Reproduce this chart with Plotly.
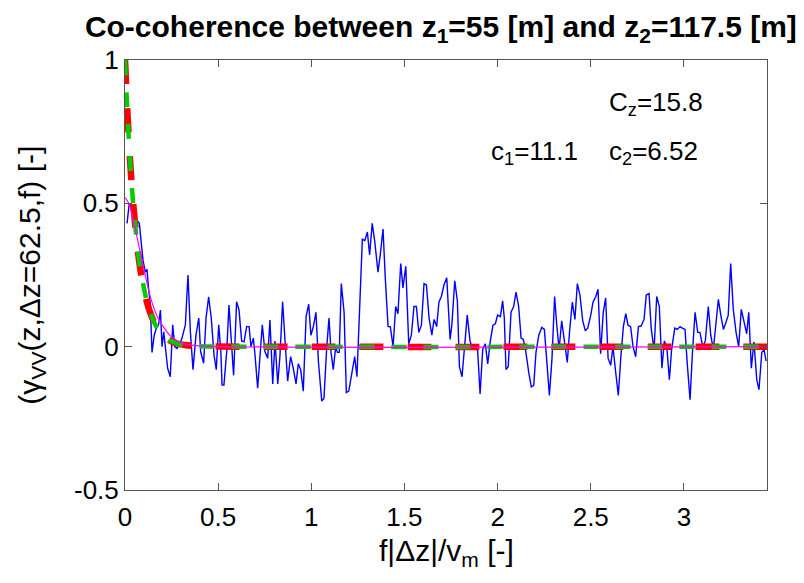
import plotly.graph_objects as go

# Measured co-coherence (normalised frequency, value)
f_meas = [
    0.011, 0.023, 0.038, 0.052, 0.064, 0.077, 0.086, 0.097, 0.109, 0.118,
    0.127, 0.136, 0.145, 0.157, 0.168, 0.181, 0.190, 0.199, 0.208, 0.217,
    0.229, 0.243, 0.256, 0.267, 0.279, 0.292, 0.306, 0.324, 0.338, 0.351,
    0.365, 0.381, 0.396, 0.406, 0.422, 0.435, 0.449, 0.463, 0.478, 0.490,
    0.503, 0.514, 0.521, 0.531, 0.546, 0.558, 0.571, 0.583,
    0.599, 0.612, 0.626, 0.639, 0.653, 0.666, 0.676, 0.689, 0.698, 0.712,
    0.725, 0.737, 0.751, 0.766, 0.778, 0.793, 0.805, 0.820, 0.832, 0.846,
    0.859, 0.873, 0.889, 0.903, 0.918, 0.930, 0.943, 0.957, 0.972, 0.986,
    0.998, 1.011, 1.025, 1.038, 1.056, 1.068, 1.083, 1.095, 1.106, 1.118,
    1.131, 1.140, 1.150, 1.161,
    1.176, 1.188, 1.201, 1.215, 1.233, 1.245, 1.260, 1.274, 1.287, 1.301,
    1.313, 1.327, 1.340, 1.358, 1.370, 1.385, 1.397, 1.412, 1.424, 1.439,
    1.453, 1.465, 1.480, 1.492, 1.507, 1.523, 1.537, 1.551, 1.564, 1.577,
    1.591, 1.605, 1.618, 1.632, 1.647, 1.659, 1.673, 1.685, 1.698, 1.712,
    1.727,
    1.745, 1.755, 1.770, 1.784, 1.795, 1.809, 1.823, 1.837, 1.852, 1.866,
    1.880, 1.893, 1.906, 1.920, 1.934, 1.947, 1.961, 1.975, 1.988, 2.000,
    2.015, 2.027, 2.036, 2.045, 2.057, 2.072, 2.086, 2.099, 2.113, 2.126,
    2.138, 2.152, 2.167, 2.181, 2.194, 2.206, 2.221, 2.237, 2.251, 2.264,
    2.278, 2.292, 2.306,
    2.317, 2.330, 2.344, 2.360, 2.374, 2.387, 2.401, 2.415, 2.428, 2.442,
    2.457, 2.471, 2.484, 2.500, 2.512, 2.527, 2.539, 2.553, 2.567, 2.580,
    2.593, 2.607, 2.619, 2.634, 2.648, 2.661, 2.675, 2.688, 2.700, 2.714,
    2.727, 2.741, 2.756, 2.770, 2.786, 2.798, 2.813, 2.825, 2.840, 2.854,
    2.868, 2.882, 2.895,
    2.908, 2.922, 2.934, 2.951, 2.965, 2.979, 2.992, 3.006, 3.018, 3.033,
    3.045, 3.060, 3.074, 3.086, 3.101, 3.115, 3.131, 3.144, 3.158, 3.172,
    3.185, 3.198, 3.212, 3.226, 3.238, 3.251, 3.265, 3.280, 3.294, 3.308,
    3.323, 3.337, 3.348, 3.362, 3.376, 3.391, 3.403, 3.418, 3.430, 3.441,
]
coh_meas = [
    0.43, 0.50, 0.48, 0.45, 0.44, 0.43, 0.37, 0.30, 0.26, 0.27,
    0.20, 0.145, -0.02, 0.04, 0.064, 0.08, 0.128, 0.0, 0.052, -0.006,
    -0.076, -0.105, 0.076, 0.0, -0.006, 0.006, 0.03, 0.076, 0.25, 0.052,
    -0.08, 0.04, 0.10, -0.017, -0.058, 0.10, 0.174, 0.10, -0.03, -0.08,
    0.076, -0.012, -0.134, -0.134, -0.017, 0.145, 0.03, -0.10,
    0.157, 0.128, 0.02, 0.017, 0.07, 0.07, 0.0, 0.03, -0.03, -0.145,
    -0.03, 0.076, -0.017, -0.04, 0.093, -0.13, 0.02, -0.13, -0.03, 0.157,
    0.02, -0.12, -0.035, -0.075, -0.13, -0.06, -0.08, -0.155, 0.105, 0.148,
    0.04, 0.07, 0.12, -0.05, -0.19, -0.18, 0.0, 0.10, -0.02, -0.08,
    0.0, -0.02, -0.02, 0.22,
    0.12, -0.16, -0.155, -0.10, -0.035, -0.105, 0.13, 0.375, 0.37, 0.40,
    0.32, 0.43, 0.37, 0.26, 0.32, 0.41, 0.24, 0.07, 0.07, 0.0,
    0.14, 0.115, 0.29, 0.205, 0.28, 0.01, 0.04, 0.14, 0.14, 0.05,
    0.075, 0.22, 0.215, 0.10, 0.04, 0.095, 0.07, 0.155, 0.175, 0.215,
    0.24,
    0.025, 0.08, 0.23, 0.16, -0.07, -0.105, 0.0, 0.11, 0.02, -0.01,
    0.0, -0.015, -0.165, -0.01, 0.01, -0.06, 0.02, 0.075, 0.08, 0.11,
    0.105, 0.16, 0.10, -0.08, -0.07, 0.12, 0.14, 0.19, 0.14, 0.03,
    0.025, -0.02, -0.09, -0.14, -0.135, -0.02, 0.04, 0.067, 0.06, -0.04,
    -0.17, -0.04, 0.175,
    0.08, -0.01, 0.09, 0.02, -0.055, 0.06, 0.155, 0.095, 0.22, 0.18,
    0.09, 0.055, 0.065, 0.11, 0.155, 0.175, 0.20, -0.025, 0.12, 0.17,
    -0.04, -0.065, 0.0, -0.09, -0.17, -0.04, 0.07, 0.115, 0.075, 0.07,
    0.0, -0.035, 0.07, 0.072, 0.095, 0.18, 0.185, 0.06, -0.01, 0.175,
    0.14, -0.075, 0.02,
    0.0, -0.115, -0.01, 0.065, 0.06, 0.07, 0.065, 0.06, -0.06, -0.185,
    -0.03, 0.12, 0.05, 0.05, 0.0, 0.02, 0.14, 0.04, -0.01, 0.07,
    0.165, 0.11, 0.06, 0.085, 0.11, 0.29, 0.13, 0.05, 0.0, 0.13,
    0.09, 0.045, 0.12, -0.075, 0.017, -0.115, -0.15, -0.02, -0.01, -0.05,
]

# Fitted model curves
f_fit = [0.0, 0.02, 0.04, 0.06, 0.08, 0.10, 0.12, 0.14, 0.16, 0.18,
         0.20, 0.24, 0.28, 0.32, 0.38, 0.45, 3.446]
coh_fit_cz = [1.0, 0.73, 0.53, 0.39, 0.28, 0.21, 0.15, 0.11, 0.08, 0.058,
              0.042, 0.022, 0.011, 0.006, 0.0025, 0.001, 0.0]
coh_fit_c12 = [1.0, 0.73, 0.53, 0.39, 0.28, 0.21, 0.15, 0.11, 0.08, 0.058,
               0.042, 0.022, 0.011, 0.006, 0.0025, 0.001, 0.0]

f_smooth = [0.0, 0.02, 0.05, 0.08, 0.11, 0.14, 0.17, 0.20, 0.24, 0.28,
            0.32, 0.38, 0.45, 3.446]
coh_smooth = [0.52, 0.50, 0.425, 0.335, 0.245, 0.165, 0.11, 0.075, 0.04, 0.02,
              0.01, 0.004, 0.001, 0.0]

x_ticks = [0, 0.5, 1, 1.5, 2, 2.5, 3]
x_ticklabels = ["0", "0.5", "1", "1.5", "2", "2.5", "3"]
y_ticks = [-0.5, 0, 0.5, 1]
y_ticklabels = ["-0.5", "0", "0.5", "1"]

FONT = "Liberation Sans, Arial, sans-serif"
TXT = "#000000"
AX = "#555555"

fig = go.Figure()
fig.add_trace(go.Scatter(x=f_meas, y=coh_meas, mode="lines",
                         line=dict(color="#0000FF", width=1.4)))
fig.add_trace(go.Scatter(x=f_fit, y=coh_fit_cz, mode="lines",
                         line=dict(color="#FF0000", width=6.5, dash="24px,24px",
                                   shape="spline")))
fig.add_trace(go.Scatter(x=f_fit, y=coh_fit_c12, mode="lines",
                         line=dict(color="#00CC00", width=4.5, dash="15px,17px",
                                   shape="spline")))
fig.add_trace(go.Scatter(x=f_smooth, y=coh_smooth, mode="lines",
                         line=dict(color="#FF00FF", width=1.2, shape="spline")))

axis_common = dict(showline=True, linecolor=AX, linewidth=1, mirror="ticks",
                   ticks="inside", ticklen=7, tickcolor=AX, tickwidth=1,
                   showgrid=False, zeroline=False,
                   tickfont=dict(family=FONT, size=26, color=TXT))

fig.update_layout(
    width=804, height=583,
    margin=dict(l=125, r=37, t=60, b=93),
    paper_bgcolor="white", plot_bgcolor="white",
    showlegend=False,
    title=dict(text="<b>Co-coherence between z<sub>1</sub>=55 [m] and z<sub>2</sub>=117.5 [m]</b>",
               x=0.492, xanchor="center", xref="paper",
               y=0.955, yanchor="middle", yref="container",
               font=dict(family=FONT, size=30, color=TXT)),
    xaxis=dict(range=[0, 3.446], tickvals=x_ticks, ticktext=x_ticklabels,
               ticklabelstandoff=4, **axis_common),
    yaxis=dict(range=[-0.5, 1], tickvals=y_ticks, ticktext=y_ticklabels,
               **axis_common),
)

label_font = dict(family=FONT, size=30, color=TXT)
ann_font = dict(family=FONT, size=26, color=TXT)
fig.add_annotation(text="f|\u0394z|/v<sub>m</sub> [-]", xref="paper", yref="paper",
                   x=0.5, y=-0.145, showarrow=False, font=label_font,
                   xanchor="center", yanchor="middle")
fig.add_annotation(text="(\u03b3<sub>VV</sub>(z,\u0394z=62.5,f) [-]", xref="paper", yref="paper",
                   x=-0.147, y=0.5, showarrow=False, font=label_font, textangle=-90,
                   xanchor="center", yanchor="middle")
fig.add_annotation(text="C<sub>z</sub>=15.8", xref="paper", yref="paper",
                   x=0.75, y=0.90, showarrow=False, font=ann_font,
                   xanchor="left", yanchor="middle")
fig.add_annotation(text="c<sub>1</sub>=11.1", xref="paper", yref="paper",
                   x=0.638, y=0.786, showarrow=False, font=ann_font,
                   xanchor="center", yanchor="middle")
fig.add_annotation(text="c<sub>2</sub>=6.52", xref="paper", yref="paper",
                   x=0.75, y=0.786, showarrow=False, font=ann_font,
                   xanchor="left", yanchor="middle")

fig.write_html("out.html")
